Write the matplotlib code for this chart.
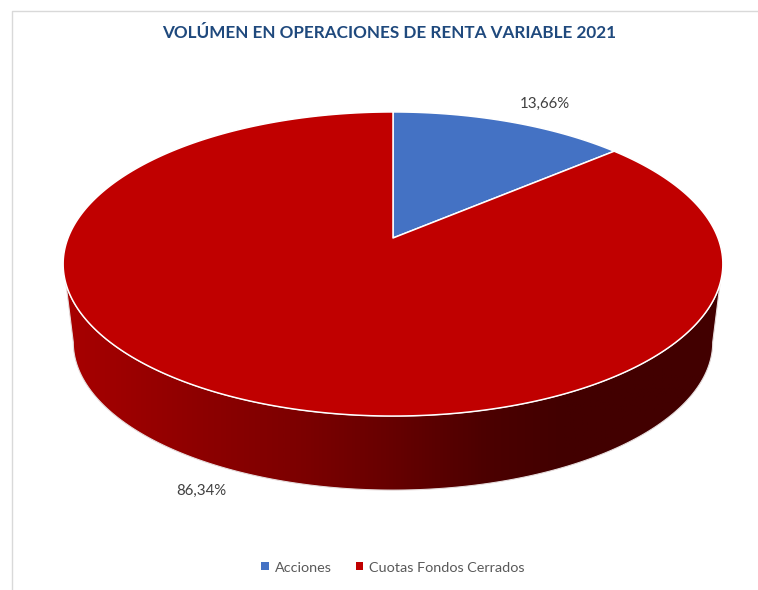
import numpy as np
import matplotlib
matplotlib.use('Agg')
import matplotlib.pyplot as plt
from matplotlib.patches import Patch, Polygon
from matplotlib.colors import LinearSegmentedColormap

title = "VOLÚMEN EN OPERACIONES DE RENTA VARIABLE 2021"
categories = ["Acciones", "Cuotas Fondos Cerrados"]
shares = [13.66, 86.34]
share_labels = ["13,66%", "86,34%"]
colours = ["#4472c4", "#c00000"]

plt.rcParams['font.family'] = ['Lato', 'DejaVu Sans']

# pie is tilted, so the circle goes through a perspective map instead of a plain ellipse
def project(t, cx, cy, rx, ry, k=0.171):
    u, v = np.sin(t), np.cos(t)
    return cx + rx * u / (1 + k * v), cy - ry * v / (1 + k * v)

def top(t):
    return project(t, 393, 238, 325, 147.6)

def bottom(t):
    return project(t, 393, 317, 315, 143.5)

fig = plt.figure(figsize=(7.58, 5.9), dpi=100)
ax = fig.add_axes([0, 0, 1, 1])
ax.axis('off')

# chart frame, open on the right and the bottom
ax.plot([12, 12, 758], [590, 10.5, 10.5], color="#d9d9d9", lw=1)

# side wall: horizontal gradient clipped to the outline between both rims
wall = LinearSegmentedColormap.from_list("wall", [
    (0.0, "#a80000"), (0.2, "#8e0000"), (0.36, "#7c0000"), (0.5, "#660000"),
    (0.64, "#4c0000"), (0.76, "#420000"), (1.0, "#420000")])
x1, y1 = top(np.linspace(np.pi / 2 + 0.3, 3 * np.pi / 2 - 0.3, 300))
x2, y2 = bottom(np.linspace(3 * np.pi / 2 - 0.172, np.pi / 2 + 0.172, 300))
outline = Polygon(np.c_[np.r_[x1, x2], np.r_[y1, y2]], closed=True, facecolor='none',
                  edgecolor="#e6dcdc", lw=0.8, transform=ax.transData, zorder=2.1)
ax.add_patch(outline)
im = ax.imshow(np.linspace(0, 1, 512)[None, :], cmap=wall, aspect='auto',
               extent=(64, 723, 500, 250), zorder=2)
im.set_clip_path(outline)

# top face
start = 0.0
for share, colour in zip(shares, colours):
    end = start + share / sum(shares) * 2 * np.pi
    x, y = top(np.linspace(start, end, 300))
    ax.fill(np.r_[393, x], np.r_[238, y], facecolor=colour, edgecolor="white", lw=1.1,
            joinstyle='round', zorder=3)
    start = end

ax.set_xlim(0, 758)
ax.set_ylim(590, 0)

ax.text(545, 103.5, share_labels[0], ha='center', va='center', fontsize=10.8, color="#404040")
ax.text(201.5, 490.5, share_labels[1], ha='center', va='center', fontsize=10.8, color="#404040")

ax.text(389, 33.5, title, ha='center', va='center', fontsize=12.35, fontweight='bold', color="#1f497d")

handles = [Patch(facecolor=c, edgecolor='none') for c in colours]
ax.legend(handles, categories, loc='center', bbox_to_anchor=(393 / 758, 1 - 567.5 / 590), ncol=2,
          frameon=False, fontsize=10.4, labelcolor="#595959", handlelength=0.5, handleheight=0.5,
          handletextpad=0.42, columnspacing=1.67)

fig.savefig("out.png", dpi=100)
